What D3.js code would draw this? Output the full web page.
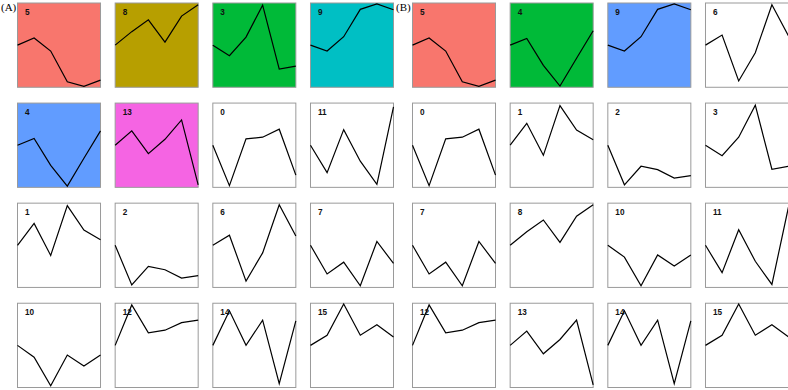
<!DOCTYPE html>
<html><head><meta charset="utf-8">
<script src="https://cdn.jsdelivr.net/npm/d3@7"></script>
<style>body{margin:0;background:#fff}svg{display:block}</style>
</head><body>
<script>
// series values (relative to first point), 16 series, 6 time points each
const seriesIds = [0,1,2,3,4,5,6,7,8,9,10,11,12,13,14,15];
const s0  = [0, -0.96, 0.15, 0.19, 0.38, -0.71];
const s1  = [0, 0.52, -0.24, 0.94, 0.36, 0.13];
const s2  = [0, -0.94, -0.50, -0.58, -0.78, -0.72];
const s3  = [0, -0.25, 0.19, 0.95, -0.57, -0.50];
const s4  = [0, 0.16, -0.48, -0.97, -0.31, 0.34];
const s5  = [0, 0.17, -0.14, -0.87, -0.98, -0.83];
const s6  = [0, 0.24, -0.85, -0.18, 0.96, 0.22];
const s7  = [0, -0.68, -0.40, -0.96, 0.09, -0.43];
const s8  = [0, 0.32, 0.60, 0.07, 0.69, 0.96];
const s9  = [0, -0.14, 0.20, 0.85, 0.98, 0.84];
const s10 = [0, -0.28, -0.96, -0.23, -0.49, -0.23];
const s11 = [0, -0.65, 0.37, -0.38, -0.93, 0.91];
const s12 = [0, 0.96, 0.30, 0.36, 0.54, 0.60];
const s13 = [0, 0.34, -0.20, 0.14, 0.60, -0.94];
const s14 = [0, 0.82, 0, 0.60, -0.91, 0.58];
const s15 = [0, 0.24, 0.98, 0.24, 0.49, 0.20];
const seriesValues = [s0,s1,s2,s3,s4,s5,s6,s7,s8,s9,s10,s11,s12,s13,s14,s15];
const timePoints = [1,2,3,4,5,6];

// panel orders and highlighted clusters
const panelLabels = ["(A)", "(B)"];
const orderA = [5,8,3,9,4,13,0,11,1,2,6,7,10,12,14,15];
const highlightA = [5,8,3,9,4,13];
const colorsA = ["#F8766D","#B79F00","#00BA38","#00BFC4","#619CFF","#F564E3"];
const orderB = [5,4,9,6,0,1,2,3,7,8,10,11,12,13,14,15];
const highlightB = [5,4,9];
const colorsB = ["#F8766D","#00BA38","#619CFF"];

const W = 788, H = 390;
const svg = d3.select("body").append("svg").attr("width", W).attr("height", H);

const panels = [
  {label: panelLabels[0], order: orderA, hl: highlightA, cols: colorsA, x0: 17.5, lx: 1},
  {label: panelLabels[1], order: orderB, hl: highlightB, cols: colorsB, x0: 412.5, lx: 396}
];

const rowScale = d3.scaleBand().domain([0,1,2,3]).range([3, 387.5]).paddingInner(0.158).paddingOuter(0);

panels.forEach(p => {
  const colScale = d3.scaleBand().domain([0,1,2,3]).range([p.x0, p.x0 + 376]).paddingInner(0.15).paddingOuter(0);
  const fill = d3.scaleOrdinal().domain(p.hl).range(p.cols).unknown("#ffffff");
  const g = svg.append("g");
  g.append("text").attr("x", p.lx).attr("y", 10.5)
    .attr("font-family", "'Liberation Serif','Times New Roman',serif")
    .attr("font-size", 11).attr("fill", "#000").text(p.label);

  p.order.forEach((id, i) => {
    const r = Math.floor(i / 4), c = i % 4;
    const x = colScale(c), y = rowScale(r), w = colScale.bandwidth(), h = rowScale.bandwidth();
    const cell = g.append("g").attr("transform", `translate(${x},${y})`);
    cell.append("rect").attr("width", w).attr("height", h)
      .attr("fill", fill(id)).attr("stroke", "#9a9a9a").attr("stroke-width", 1);
    const xs = d3.scaleLinear().domain(d3.extent(timePoints)).range([0, w]);
    const ys = d3.scaleLinear().domain([-1, 1]).range([h, 0]);
    const line = d3.line().x((d, k) => xs(timePoints[k])).y(d => ys(d));
    cell.append("path").datum(seriesValues[id]).attr("d", line)
      .attr("fill", "none").attr("stroke", "#000").attr("stroke-width", 1.2)
      .attr("stroke-linejoin", "miter");
    cell.append("text").attr("x", 7.5).attr("y", 11.5)
      .attr("font-family", "'Liberation Sans',Arial,sans-serif")
      .attr("font-size", 8.2).attr("font-weight", "bold").attr("fill", "#111")
      .text(seriesIds[id]);
  });
});
</script>
</body></html>
